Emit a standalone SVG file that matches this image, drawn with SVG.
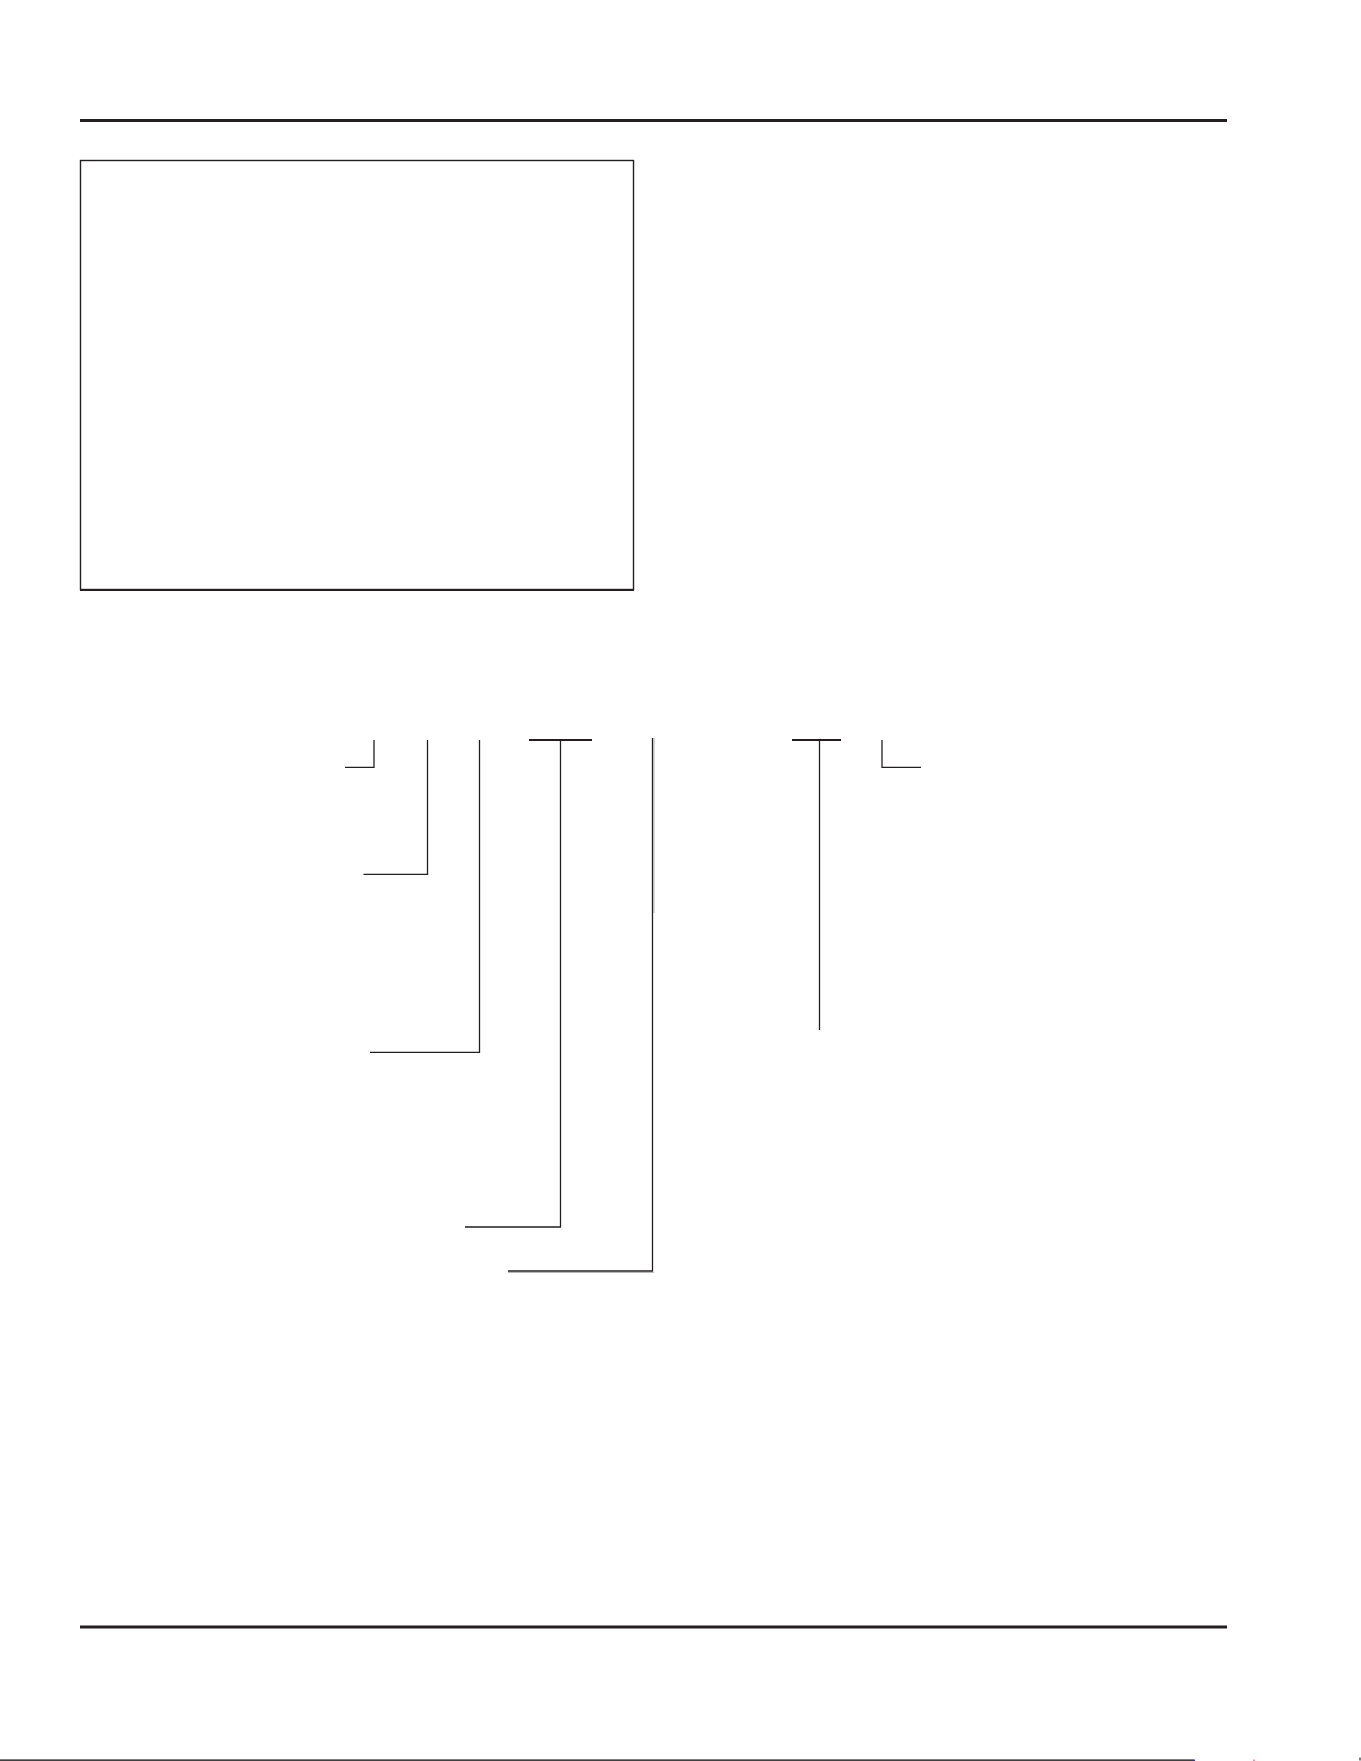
<svg xmlns="http://www.w3.org/2000/svg" width="1361" height="1761" viewBox="0 0 1361 1761">
<style>
.rule{stroke:#231f20;stroke-width:3;fill:none}
.frame{stroke:#231f20;stroke-width:1.4;fill:none}
.lead{stroke:#231f20;stroke-width:1.3;fill:none}
.bar{stroke:#231f20;stroke-width:2.2;fill:none}
.shade{stroke:#b8b8b8;stroke-width:1;fill:none}
</style>
<rect x="0" y="0" width="1361" height="1761" fill="#ffffff"/>
<g id="top-rule"><line class="rule" x1="80" y1="120.5" x2="1227" y2="120.5"/></g>
<g id="frame-box">
<rect class="frame" x="80.5" y="160.5" width="553" height="429"/>
<line class="bar" x1="80" y1="590" x2="634" y2="590"/>
</g>
<g id="connectors">
<path class="lead" d="M374,740 V767.3 H345"/>
<path class="lead" d="M427.5,740 V874.3 H363.5"/>
<path class="lead" d="M479.5,740 V1052.3 H370"/>
<line class="bar" x1="529" y1="740" x2="592" y2="740"/>
<path class="lead" d="M560.5,740 V1227 H465"/>
<line class="shade" x1="654" y1="738" x2="654" y2="913"/>
<line class="shade" x1="654" y1="1272.5" x2="508" y2="1272.5"/>
<path class="lead" d="M652.5,738 V1271 H508"/>
<line class="bar" x1="792" y1="740" x2="841" y2="740"/>
<path class="lead" d="M819.5,740 V1030"/>
<path class="lead" d="M882,740 V767.3 H921"/>
</g>
<g id="bottom-rule"><line class="rule" x1="80" y1="1627" x2="1227" y2="1627"/></g>
<g id="page-edge">
<line stroke="#000000" stroke-width="1.3" x1="0" y1="1760.2" x2="1194" y2="1760.2"/>
<rect x="1194" y="1759.5" width="1" height="1.5" fill="#3333cc"/>
<rect x="1253.5" y="1759.5" width="1" height="1.5" fill="#cc3355"/>
<rect x="1359.5" y="1757.5" width="1" height="3" fill="#000000"/>
</g>
</svg>
